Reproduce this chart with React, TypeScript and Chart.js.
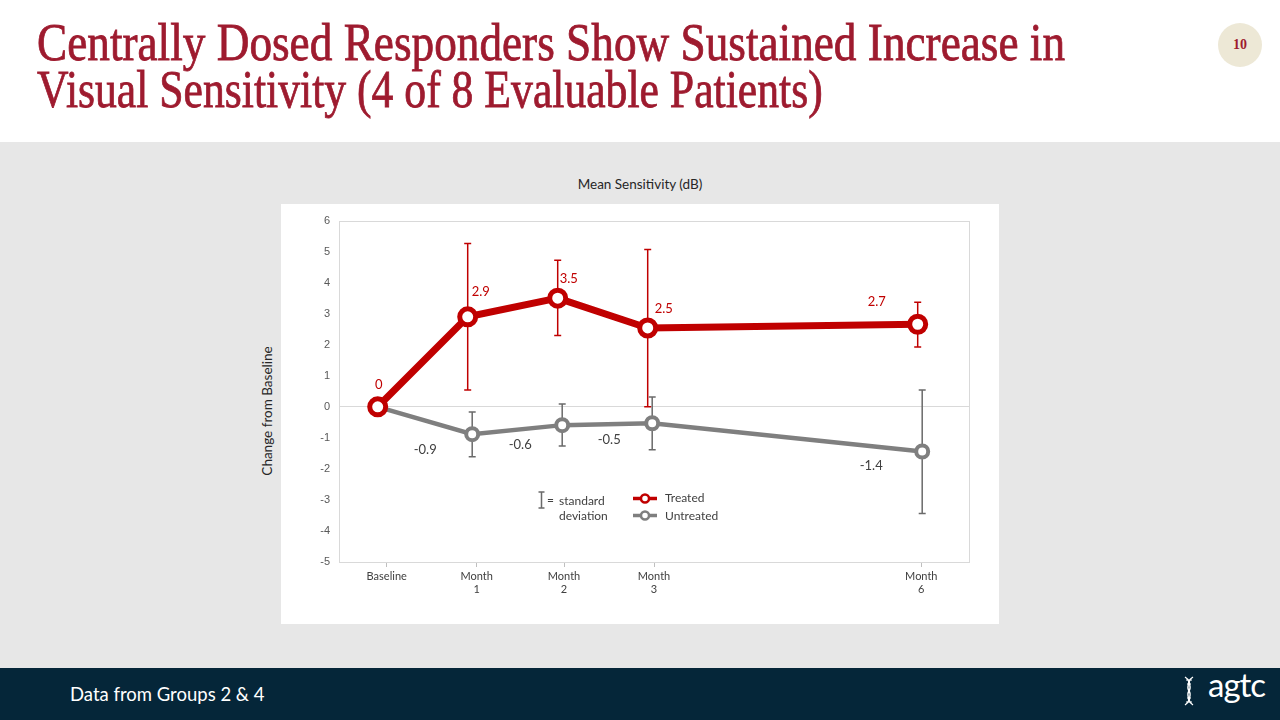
import React, { useEffect, useLayoutEffect, useRef, useState } from 'react';
import { Chart, registerables } from 'chart.js';

Chart.register(...registerables);

// ---------- data ----------
const xTickValues = [0.1, 1.1, 2.07, 3.07, 6.04];
const xTickLabels: (string | string[])[] = ['Baseline', ['Month', '1'], ['Month', '2'], ['Month', '3'], ['Month', '6']];

const treatedMonths = [0, 1, 2, 3, 6];
const treatedMean = [0, 2.9, 3.5, 2.54, 2.66];
const treatedHigh: (number | null)[] = [null, 5.26, 4.72, 5.07, 3.37];
const treatedLow: (number | null)[] = [null, 0.54, 2.3, 0.0, 1.93];
const treatedLabels = ['0', '2.9', '3.5', '2.5', '2.7'];

const untreatedMonths = [0, 1.05, 2.05, 3.05, 6.05];
const untreatedMean = [0, -0.88, -0.59, -0.53, -1.44];
const untreatedHigh: (number | null)[] = [null, -0.17, 0.09, 0.32, 0.54];
const untreatedLow: (number | null)[] = [null, -1.61, -1.26, -1.38, -3.44];
const untreatedLabels = ['', '-0.9', '-0.6', '-0.5', '-1.4'];

// ---------- styles ----------
const RED = '#C00000';
const GRAY = '#7F7F7F';
const treatedLabelOffsets = [[1, -22], [13, -25], [11, -19], [16, -19], [-41, -22]];
const untreatedLabelOffsets = [[0, 0], [-47, 16], [-42, 20], [-43, 17], [-51, 14]];

const boxPlugin = {
  id: 'boxPlugin',
  beforeDatasetsDraw(chart: any) {
    const { ctx, chartArea: a } = chart;
    ctx.save();
    ctx.strokeStyle = '#D9D9D9';
    ctx.lineWidth = 1;
    ctx.strokeRect(Math.round(a.left) + 0.5, Math.round(a.top) + 0.5, Math.round(a.right - a.left), Math.round(a.bottom - a.top));
    ctx.restore();
  },
};

const errorBarPlugin = {
  id: 'errorBars',
  beforeDatasetsDraw(chart: any) {
    const { ctx } = chart;
    const ys = chart.scales.y;
    chart.data.datasets.forEach((ds: any, i: number) => {
      const meta = chart.getDatasetMeta(i);
      ctx.save();
      ctx.strokeStyle = ds.errColor;
      ctx.lineWidth = 1.5;
      ds.errHigh.forEach((h: number | null, j: number) => {
        const l = ds.errLow[j];
        if (h == null || l == null) return;
        const px = meta.data[j].x;
        const yh = ys.getPixelForValue(h);
        const yl = ys.getPixelForValue(l);
        ctx.beginPath();
        ctx.moveTo(px, yh);
        ctx.lineTo(px, yl);
        ctx.moveTo(px - 3.5, yh);
        ctx.lineTo(px + 3.5, yh);
        ctx.moveTo(px - 3.5, yl);
        ctx.lineTo(px + 3.5, yl);
        ctx.stroke();
      });
      ctx.restore();
    });
  },
};

const labelPlugin = {
  id: 'pointLabels',
  afterDatasetsDraw(chart: any) {
    const { ctx } = chart;
    chart.data.datasets.forEach((ds: any, i: number) => {
      const meta = chart.getDatasetMeta(i);
      ctx.save();
      ctx.font = '13px Lato';
      ctx.fillStyle = ds.labelColor;
      ctx.textAlign = 'center';
      ctx.textBaseline = 'middle';
      ds.pointLabels.forEach((t: string, j: number) => {
        if (!t) return;
        const p = meta.data[j];
        const [dx, dy] = ds.labelOffsets[j];
        ctx.fillText(t, p.x + dx, p.y + dy);
      });
      ctx.restore();
    });
  },
};

function FitLine({ text, width, style }: { text: string; width: number; style: React.CSSProperties }) {
  const ref = useRef<HTMLSpanElement>(null);
  const [scale, setScale] = useState(1);
  useLayoutEffect(() => {
    if (ref.current) {
      const w = ref.current.offsetWidth;
      if (w) setScale(width / w);
    }
  }, [text, width]);
  return (
    <span
      ref={ref}
      style={{ ...style, display: 'inline-block', whiteSpace: 'nowrap', transform: `scaleX(${scale})`, transformOrigin: 'left top' }}
    >
      {text}
    </span>
  );
}

function SensitivityChart() {
  const canvasRef = useRef<HTMLCanvasElement>(null);
  useEffect(() => {
    if (!canvasRef.current) return;
    const chart = new Chart(canvasRef.current, {
      type: 'line',
      data: {
        datasets: [
          {
            label: 'Treated',
            data: treatedMonths.map((m, i) => ({ x: m, y: treatedMean[i] })),
            borderColor: RED,
            backgroundColor: '#FFFFFF',
            borderWidth: 7,
            pointRadius: 8,
            pointBorderWidth: 5,
            pointBackgroundColor: '#FFFFFF',
            pointBorderColor: RED,
            pointHoverRadius: 8,
            tension: 0,
            errHigh: treatedHigh,
            errLow: treatedLow,
            errColor: RED,
            pointLabels: treatedLabels,
            labelOffsets: treatedLabelOffsets,
            labelColor: RED,
          } as any,
          {
            label: 'Untreated',
            data: untreatedMonths.map((m, i) => ({ x: m, y: untreatedMean[i] })),
            borderColor: GRAY,
            backgroundColor: '#FFFFFF',
            borderWidth: 4.5,
            pointRadius: 6,
            pointBorderWidth: 4,
            pointBackgroundColor: '#FFFFFF',
            pointBorderColor: GRAY,
            pointHoverRadius: 6,
            tension: 0,
            errHigh: untreatedHigh,
            errLow: untreatedLow,
            errColor: '#6A6A6A',
            pointLabels: untreatedLabels,
            labelOffsets: untreatedLabelOffsets,
            labelColor: '#404040',
          } as any,
        ],
      },
      options: {
        animation: false,
        responsive: false,
        maintainAspectRatio: false,
        layout: { padding: { top: 10, right: 21, left: 0, bottom: 0 } },
        plugins: {
          legend: { display: false },
          title: { display: false },
          tooltip: { enabled: false },
        },
        scales: {
          x: {
            type: 'linear',
            min: -0.43,
            max: 6.57,
            afterFit(scale: any) {
              scale.height = 53;
            },
            afterBuildTicks(scale: any) {
              scale.ticks = xTickValues.map((v) => ({ value: v }));
            },
            ticks: {
              autoSkip: false,
              maxRotation: 0,
              padding: 3,
              color: '#404040',
              font: { family: 'Lato', size: 11 },
              callback(value: any) {
                const idx = xTickValues.indexOf(value);
                return idx >= 0 ? xTickLabels[idx] : '';
              },
            },
            grid: {
              display: true,
              drawOnChartArea: false,
              drawTicks: true,
              tickLength: 5,
              color: '#BFBFBF',
            },
            border: { display: false },
          },
          y: {
            type: 'linear',
            min: -5,
            max: 6,
            afterFit(scale: any) {
              scale.width = 49;
            },
            ticks: {
              stepSize: 1,
              padding: 9,
              color: '#595959',
              font: { family: '"Liberation Sans", Arial, sans-serif', size: 11 },
            },
            grid: {
              drawTicks: false,
              color: (c: any) => (c.tick && c.tick.value === 0 ? '#D9D9D9' : 'rgba(0,0,0,0)'),
            },
            border: { display: false },
          },
        },
      },
      plugins: [boxPlugin, errorBarPlugin, labelPlugin],
    });
    return () => chart.destroy();
  }, []);
  return <canvas ref={canvasRef} width={700} height={410} style={{ position: 'absolute', left: 290, top: 205, width: 700, height: 410 }} />;
}

function LegendBox() {
  const textStyle: React.CSSProperties = { position: 'absolute', fontFamily: 'Lato', fontSize: 12, color: '#404040', lineHeight: '14px', whiteSpace: 'nowrap' };
  return (
    <>
      <svg style={{ position: 'absolute', left: 536, top: 490, overflow: 'visible' }} width={12} height={20}>
        <path d="M5.5 2 L5.5 18 M2.5 2 L8.5 2 M2.5 18 L8.5 18" stroke="#6A6A6A" strokeWidth={1.5} fill="none" />
      </svg>
      <div style={{ ...textStyle, left: 547, top: 493 }}>=</div>
      <div style={{ ...textStyle, left: 559, top: 494 }}>standard</div>
      <div style={{ ...textStyle, left: 559, top: 509 }}>deviation</div>
      <svg style={{ position: 'absolute', left: 630, top: 490, overflow: 'visible' }} width={30} height={34}>
        <line x1={3} y1={8.5} x2={27} y2={8.5} stroke={RED} strokeWidth={3.5} />
        <circle cx={15} cy={8.5} r={4} fill="#fff" stroke={RED} strokeWidth={2.5} />
        <line x1={3} y1={25.5} x2={27} y2={25.5} stroke={GRAY} strokeWidth={3.5} />
        <circle cx={15} cy={25.5} r={4} fill="#fff" stroke={GRAY} strokeWidth={2.5} />
      </svg>
      <div style={{ ...textStyle, left: 665, top: 491 }}>Treated</div>
      <div style={{ ...textStyle, left: 665, top: 509 }}>Untreated</div>
    </>
  );
}

export default function App() {
  const titleStyle: React.CSSProperties = {
    fontFamily: '"Liberation Serif", "DejaVu Serif", serif',
    fontSize: 53,
    lineHeight: '54px',
    color: '#9E1B2F',
    WebkitTextStroke: '0.8px #9E1B2F',
  };
  return (
    <div style={{ position: 'fixed', left: 0, top: 0, width: 1280, height: 720, background: '#FFFFFF', overflow: 'hidden' }}>
      {/* header */}
      <div style={{ position: 'absolute', left: 37, top: 15 }}>
        <FitLine text="Centrally Dosed Responders Show Sustained Increase in" width={1028} style={titleStyle} />
      </div>
      <div style={{ position: 'absolute', left: 37, top: 62 }}>
        <FitLine text="Visual Sensitivity (4 of 8 Evaluable Patients)" width={786} style={titleStyle} />
      </div>
      <div
        style={{
          position: 'absolute', left: 1218, top: 23, width: 44, height: 44, borderRadius: '50%', background: '#EDE8D6',
          display: 'flex', alignItems: 'center', justifyContent: 'center',
          fontFamily: '"Liberation Serif", serif', fontSize: 14, fontWeight: 'bold', color: '#9E1B2F',
        }}
      >
        10
      </div>

      {/* gray body */}
      <div style={{ position: 'absolute', left: 0, top: 142, width: 1280, height: 526, background: '#E7E7E7' }} />
      <div style={{ position: 'absolute', left: 281, top: 204, width: 718, height: 420, background: '#FFFFFF' }} />
      <div style={{ position: 'absolute', left: 440, top: 175, width: 400, textAlign: 'center', fontFamily: 'Lato', fontSize: 13.5, color: '#262626', lineHeight: '18px' }}>
        Mean Sensitivity (dB)
      </div>
      <div
        style={{
          position: 'absolute', left: 267, top: 411, width: 0, height: 0,
        }}
      >
        <div style={{ position: 'absolute', left: -100, top: -9, width: 200, textAlign: 'center', transform: 'rotate(-90deg)', fontFamily: 'Lato', fontSize: 13.5, color: '#262626', lineHeight: '18px', whiteSpace: 'nowrap' }}>
          Change from Baseline
        </div>
      </div>
      <SensitivityChart />
      <LegendBox />

      {/* footer */}
      <div style={{ position: 'absolute', left: 0, top: 668, width: 1280, height: 52, background: '#052639' }} />
      <div style={{ position: 'absolute', left: 70, top: 683, fontFamily: 'Lato', fontSize: 18.5, lineHeight: '22px', color: '#FFFFFF' }}>
        Data from Groups 2 & 4
      </div>
      <svg style={{ position: 'absolute', left: 1182, top: 676 }} width={14} height={30}>
        <path d="M3 1 C 11 6, 3 10, 7 15 C 11 20, 3 24, 11 29" stroke="#FFFFFF" strokeWidth={1.4} fill="none" />
        <path d="M11 1 C 3 6, 11 10, 7 15 C 3 20, 11 24, 3 29" stroke="#FFFFFF" strokeWidth={1.4} fill="none" />
        <path d="M4 4 L10 4 M5 8 L9 8 M5 22 L9 22 M4 26 L10 26" stroke="#FFFFFF" strokeWidth={1} />
      </svg>
      <div style={{ position: 'absolute', left: 1208, top: 668, fontFamily: 'Lato', fontWeight: 400, fontSize: 33, lineHeight: '32px', color: '#FFFFFF', letterSpacing: -1 }}>
        agtc
      </div>
    </div>
  );
}
